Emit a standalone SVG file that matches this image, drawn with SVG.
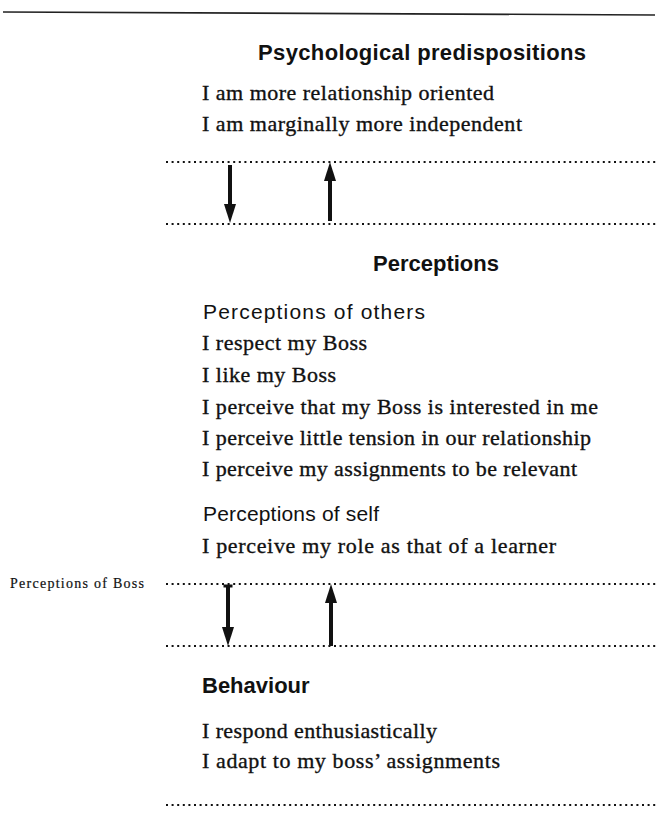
<svg xmlns="http://www.w3.org/2000/svg" width="658" height="814" viewBox="0 0 658 814">
<style>
.bg{fill:#fff}
.h{font-family:"Liberation Sans",Arial,sans-serif;font-weight:bold;font-size:22px;fill:#111}
.s{font-family:"Liberation Sans",Arial,sans-serif;font-size:21px;fill:#111}
.t{font-family:"Liberation Serif","Times New Roman",serif;font-size:22px;fill:#111;stroke:#111;stroke-width:0.35}
.sm{font-family:"Liberation Serif","Times New Roman",serif;font-size:14px;fill:#111;stroke:#111;stroke-width:0.2}
.dot{stroke:#111;stroke-width:2;stroke-dasharray:2 3.6;fill:none}
.arr{stroke:#111;stroke-width:4;fill:none;marker-end:url(#head)}
</style>
<defs>
<marker id="head" markerUnits="userSpaceOnUse" viewBox="0 0 19 12" refX="0" refY="6" markerWidth="19" markerHeight="12" orient="auto">
<path d="M0,0 L19,6 L0,12 z" fill="#111"/>
</marker>
</defs>
<rect class="bg" x="0" y="0" width="658" height="814"/>
<line x1="3" y1="12" x2="655" y2="15" stroke="#222" stroke-width="1.6"/>

<g id="psych">
<text class="h" x="258" y="60" textLength="328">Psychological predispositions</text>
<text class="t" x="202" y="100" textLength="292">I am more relationship oriented</text>
<text class="t" x="202" y="131" textLength="320">I am marginally more independent</text>
</g>

<g id="perceptions">
<text class="h" x="373" y="271">Perceptions</text>
<text class="s" x="203" y="319" textLength="222">Perceptions of others</text>
<text class="t" x="202" y="350" textLength="165">I respect my Boss</text>
<text class="t" x="202" y="382" textLength="134">I like my Boss</text>
<text class="t" x="202" y="414" textLength="396">I perceive that my Boss is interested in me</text>
<text class="t" x="202" y="445" textLength="389">I perceive little tension in our relationship</text>
<text class="t" x="202" y="476" textLength="375">I perceive my assignments to be relevant</text>
<text class="s" x="203" y="521" textLength="176">Perceptions of self</text>
<text class="t" x="202" y="553" textLength="354">I perceive my role as that of a learner</text>
</g>

<g id="boss-label">
<text class="sm" x="10" y="588" textLength="134">Perceptions of Boss</text>
</g>

<g id="behaviour">
<text class="h" x="202" y="693">Behaviour</text>
<text class="t" x="202" y="738" textLength="235">I respond enthusiastically</text>
<text class="t" x="202" y="768" textLength="298">I adapt to my boss’ assignments</text>
</g>

<g id="dividers">
<line class="dot" x1="166" y1="162" x2="658" y2="162"/>
<line class="dot" x1="166" y1="224" x2="658" y2="224"/>
<line class="dot" x1="166" y1="584" x2="658" y2="584"/>
<line class="dot" x1="166" y1="646" x2="658" y2="646"/>
<line class="dot" x1="166" y1="805" x2="658" y2="805"/>
</g>

<g id="connectors">
<line class="arr" x1="230" y1="165" x2="230" y2="204"/>
<line class="arr" x1="330" y1="221" x2="330" y2="181"/>
<line class="arr" x1="228" y1="585" x2="228" y2="627"/>
<line x1="223.5" y1="586" x2="232.5" y2="586" stroke="#111" stroke-width="3"/>
<line class="arr" x1="331" y1="646" x2="331" y2="603"/>
</g>
</svg>
